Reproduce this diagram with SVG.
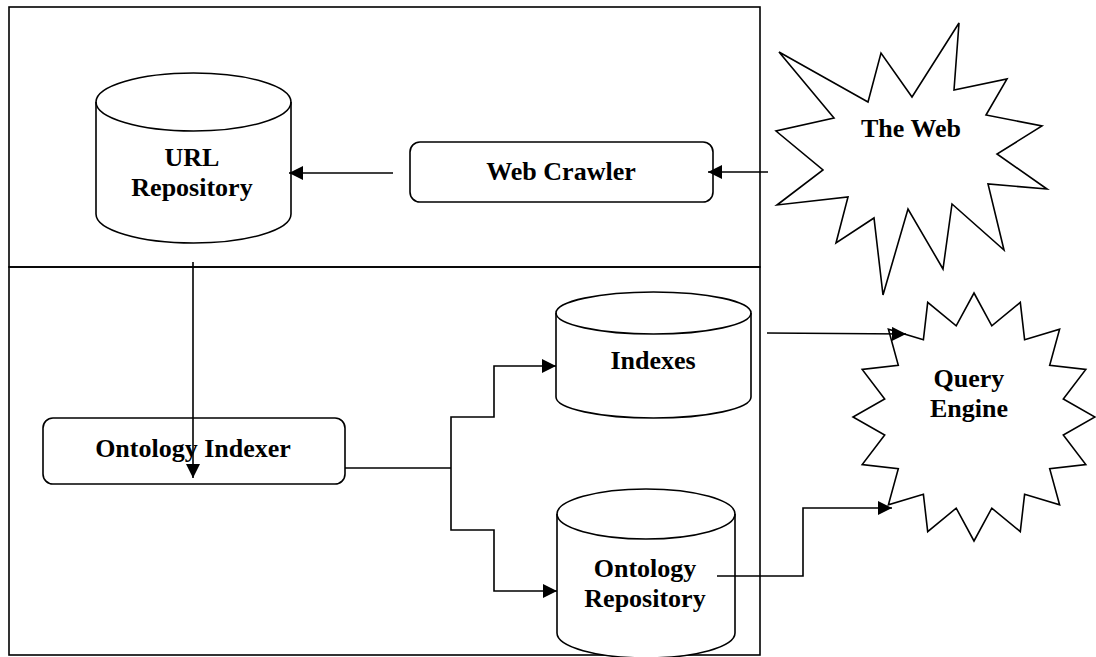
<svg xmlns="http://www.w3.org/2000/svg" width="1096" height="657" viewBox="0 0 1096 657">
<style>
.s{fill:#fff;stroke:#000;stroke-width:1.6}
.n{fill:none;stroke:#000;stroke-width:1.6}
.t{font-family:"Liberation Serif","Times New Roman",serif;font-weight:bold;font-size:26px;text-anchor:middle;fill:#000}
.c{fill:none;stroke:#000;stroke-width:1.6}
</style>
<defs>
<marker id="ah" viewBox="0 0 10 10" refX="10" refY="5" markerUnits="userSpaceOnUse" markerWidth="16" markerHeight="14" orient="auto">
<path d="M0,0 L10,5 L0,10 z" fill="#000"/>
</marker>
</defs>
<rect width="1096" height="657" fill="#fff"/>
<g id="frame">
<rect class="n" x="9" y="7" width="751" height="260"/>
<rect class="n" x="9" y="267" width="751" height="388"/>
</g>
<g id="url-repository">
<path class="s" d="M96,102 L96,214 A97.5,29 0 0 0 291,214 L291,102 A97.5,29 0 0 0 96,102 Z"/>
<path class="n" d="M96,102 A97.5,29 0 0 0 291,102"/>
<text class="t" x="192" y="166">URL</text>
<text class="t" x="192" y="196">Repository</text>
</g>
<g id="web-crawler">
<rect class="s" x="410" y="142" width="303" height="60" rx="10"/>
<text class="t" x="561" y="180">Web Crawler</text>
</g>
<g id="the-web">
<polygon class="s" points="779,52 868,102 881,53 912,97 959,23 954,90 1007,79 986,115 1042,126 997,154 1047,189 988,184 1004,250 952,204 943,269 908,209 883,295 874,218 836,243 848,197 777,205 823,170 776,131 834,118"/>
<text class="t" x="911" y="137">The Web</text>
</g>
<g id="ontology-indexer">
<rect class="s" x="43" y="418" width="302" height="66" rx="10"/>
<text class="t" x="193" y="457">Ontology Indexer</text>
</g>
<g id="indexes">
<path class="s" d="M556,313 L556,397 A97.5,21 0 0 0 751,397 L751,313 A97.5,21 0 0 0 556,313 Z"/>
<path class="n" d="M556,313 A97.5,21 0 0 0 751,313"/>
<text class="t" x="653" y="369">Indexes</text>
</g>
<g id="ontology-repository">
<path class="s" d="M557,514 L557,633 A89,25 0 0 0 735,633 L735,514 A89,25 0 0 0 557,514 Z"/>
<path class="n" d="M557,514 A89,25 0 0 0 735,514"/>
<text class="t" x="645" y="577">Ontology</text>
<text class="t" x="645" y="607">Repository</text>
</g>
<g id="query-engine">
<polygon class="s" points="974,293 991.8,325.8 1020.3,302.4 1024.6,339.7 1059.6,329.3 1049.7,365.3 1085.8,369.5 1063.3,398.9 1095,417 1063.3,435.1 1085.8,464.5 1049.7,468.7 1059.6,504.7 1024.6,494.3 1020.3,531.6 991.8,508.2 974,541 956.2,508.2 927.7,531.6 923.4,494.3 888.4,504.7 898.3,468.7 862.2,464.5 884.7,435.1 853,417 884.7,398.9 862.2,369.5 898.3,365.3 888.4,329.3 923.4,339.7 927.7,302.4 956.2,325.8"/>
<text class="t" x="969" y="387">Query</text>
<text class="t" x="969" y="417">Engine</text>
</g>
<g id="connectors">
<path class="c" d="M393,173 L289,173" marker-end="url(#ah)"/>
<path class="c" d="M768,172 L708,172" marker-end="url(#ah)"/>
<path class="c" d="M193,262 L193,478" marker-end="url(#ah)"/>
<path class="c" d="M345,468 L451,468"/>
<path class="c" d="M451,468 L451,417 L494,417 L494,366 L556,366" marker-end="url(#ah)"/>
<path class="c" d="M451,468 L451,530 L494,530 L494,591 L557,591" marker-end="url(#ah)"/>
<path class="c" d="M767,333 L906,334" marker-end="url(#ah)"/>
<path class="c" d="M717,576 L803,576 L803,508 L892,508" marker-end="url(#ah)"/>
</g>
</svg>
